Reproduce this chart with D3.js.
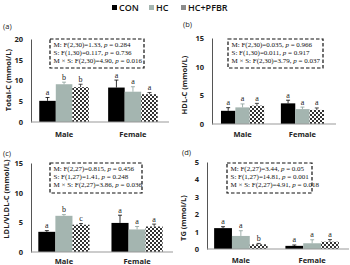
<!DOCTYPE html>
<html>
<head>
<meta charset="utf-8">
<script src="https://cdn.jsdelivr.net/npm/d3@7"></script>
<style>
  body { margin: 0; background: #fff; }
  svg { display: block; }
  .tick text { font-family: "Open Sans", sans-serif; font-weight: 700; font-size: 7.5px; fill: #222; }
  .stat { font-family: "Liberation Serif", "DejaVu Serif", serif; font-size: 7px; fill: #111; }
  .sig { font-family: "Liberation Serif", serif; font-size: 8px; fill: #222; }
  .ytitle, .cat { font-family: "Open Sans", sans-serif; font-weight: 700; font-size: 7.5px; fill: #222; }
  .plabel { font-family: "Open Sans", sans-serif; font-size: 7.5px; fill: #222; }
  .legend text { font-family: "Open Sans", sans-serif; font-weight: 600; font-size: 9px; fill: #111; }
</style>
</head>
<body>
<div id="chart"></div>
<script>
// groups and treatments
const groups = ["Male", "Female"];
const treatments = ["CON", "HC", "HC+PFBR"];

// means and error bars, order: Male CON, HC, HC+PFBR, Female CON, HC, HC+PFBR
const totalCMean = [5.1, 9.1, 8.4, 8.3, 7.3, 6.7];
const totalCErr = [0.8, 0.5, 0.7, 1.8, 1.2, 0.4];
const totalCSig = ["a", "b", "b", "a", "a", "a"];
const totalCStats = ["M: F(2,30)=1.33, |p| = 0.284", "S: F(1,30)=0.117, |p| = 0.736", "M × S: F(2,30)=4.90, |p| = 0.016"];

const hdlMean = [2.3, 2.9, 3.2, 3.6, 2.6, 2.45];
const hdlErr = [0.55, 0.6, 0.4, 0.55, 0.35, 0.35];
const hdlSig = ["a", "a", "a", "a", "a", "a"];
const hdlStats = ["M: F(2,30)=0.035, |p| = 0.966", "S: F(1,30)=0.011, |p| = 0.917", "M × S: F(2,30)=3.79, |p| = 0.037"];

const ldlMean = [3.4, 6.1, 4.6, 4.9, 3.8, 4.3];
const ldlErr = [0.2, 0.2, 0.2, 1.3, 0.5, 0.4];
const ldlSig = ["a", "b", "c", "a", "a", "a"];
const ldlStats = ["M: F(2,27)=0.815, |p| = 0.456", "S: F(1,27)=1.41, |p| = 0.248", "M × S: F(2,27)=3.86, |p| = 0.036"];

const tgMean = [1.2, 0.75, 0.27, 0.18, 0.33, 0.42];
const tgErr = [0.08, 0.3, 0.05, 0.05, 0.2, 0.12];
const tgSig = ["a", "a", "b", "a", "a", "a"];
const tgStats = ["M: F(2,27)=3.44, |p| = 0.05", "S: F(1,27)=14.81, |p| = 0.001", "M × S: F(2,27)=4.91, |p| = 0.018"];

const colors = {"CON": "#000000", "HC": "#a4b5b0", "HC+PFBR": "url(#checker)"};
const errColors = {"CON": "#000000", "HC": "#8a9e99", "HC+PFBR": "#222222"};
const legendColors = {"CON": "#000000", "HC": "#a4b5b0", "HC+PFBR": "#8c8c8c"};

const svg = d3.select("#chart").append("svg")
    .attr("width", 350)
    .attr("height", 265);

// checkerboard pattern for HC+PFBR
let pat = svg.append("defs").append("pattern")
    .attr("id", "checker")
    .attr("patternUnits", "userSpaceOnUse")
    .attr("width", 4)
    .attr("height", 4);
pat.append("rect").attr("width", 4).attr("height", 4).attr("fill", "#fff");
pat.append("rect").attr("width", 2).attr("height", 2).attr("fill", "#333");
pat.append("rect").attr("x", 2).attr("y", 2).attr("width", 2).attr("height", 2).attr("fill", "#333");

// legend
let legend = svg.append("g").attr("class", "legend");
let legX = [112, 149, 181];
treatments.forEach((t, i) => {
    legend.append("rect")
        .attr("x", legX[i]).attr("y", 5)
        .attr("width", 5).attr("height", 5)
        .attr("fill", legendColors[t]);
    legend.append("text")
        .attr("x", legX[i] + 7).attr("y", 11)
        .text(t);
});

function drawPanel(p) {
    let g = svg.append("g");

    let y = d3.scaleLinear().domain([0, p.ymax]).range([p.bottom, p.top]);
    let x0 = d3.scaleBand().domain(groups).range([p.left, p.right])
        .paddingInner(p.pi).paddingOuter(p.po);
    let x1 = d3.scaleBand().domain(treatments).range([0, x0.bandwidth()]);

    // y axis
    let yAxis = d3.axisLeft(y).tickValues(d3.range(0, p.ymax + 0.001, p.step))
        .tickFormat(d3.format("d"))
        .tickSize(0).tickPadding(8);
    let ya = g.append("g")
        .attr("transform", `translate(${p.left},0)`)
        .call(yAxis);
    ya.select(".domain").attr("stroke", "#555").attr("stroke-width", 1);

    // bars
    let rows = [];
    groups.forEach((gr, gi) => {
        treatments.forEach((t, ti) => {
            let k = gi * 3 + ti;
            rows.push({group: gr, t: t, v: p.mean[k], e: p.err[k], s: p.sig[k]});
        });
    });

    g.selectAll(".bar")
        .data(rows)
        .enter().append("rect")
        .attr("x", d => x0(d.group) + x1(d.t))
        .attr("y", d => y(d.v))
        .attr("width", x1.bandwidth())
        .attr("height", d => y(0) - y(d.v))
        .attr("fill", d => colors[d.t]);

    // error bars
    rows.forEach(d => {
        let cx = x0(d.group) + x1(d.t) + x1.bandwidth() / 2;
        g.append("line")
            .attr("x1", cx).attr("x2", cx)
            .attr("y1", y(d.v)).attr("y2", y(d.v + d.e))
            .attr("stroke", errColors[d.t]).attr("stroke-width", 0.8);
        g.append("line")
            .attr("x1", cx - 2).attr("x2", cx + 2)
            .attr("y1", y(d.v + d.e)).attr("y2", y(d.v + d.e))
            .attr("stroke", errColors[d.t]).attr("stroke-width", 0.8);
        g.append("text")
            .attr("class", "sig")
            .attr("x", cx).attr("y", y(d.v + d.e) - 2.5)
            .attr("text-anchor", "middle")
            .text(d.s);
    });

    // x axis line
    g.append("line")
        .attr("x1", p.left).attr("x2", p.right + 3)
        .attr("y1", y(0)).attr("y2", y(0))
        .attr("stroke", "#999").attr("stroke-width", 1);

    groups.forEach(gr => {
        g.append("text")
            .attr("class", "cat")
            .attr("x", x0(gr) + x0.bandwidth() / 2)
            .attr("y", y(0) + p.catDy)
            .attr("text-anchor", "middle")
            .text(gr);
    });

    // axis title
    g.append("text")
        .attr("class", "ytitle")
        .attr("transform", `translate(${p.titleX},${p.titleY}) rotate(-90)`)
        .attr("text-anchor", "middle")
        .text(p.title);

    g.append("text")
        .attr("class", "plabel")
        .attr("x", p.lab[0]).attr("y", p.lab[1])
        .text(p.name);

    // stats box
    g.append("rect")
        .attr("x", p.box[0]).attr("y", p.box[1])
        .attr("width", p.box[2] - p.box[0]).attr("height", p.box[3] - p.box[1])
        .attr("fill", "#fff")
        .attr("stroke", "#111").attr("stroke-width", 1.2)
        .attr("stroke-dasharray", "3.5,2");
    p.stats.forEach((s, i) => {
        let parts = s.split("|");
        let t = g.append("text")
            .attr("class", "stat")
            .attr("x", p.box[0] + 3.5)
            .attr("y", p.box[1] + 8 + i * 7.8);
        t.append("tspan").text(parts[0]);
        t.append("tspan").attr("font-style", "italic").text(parts[1]);
        t.append("tspan").text(parts[2]);
    });
}

drawPanel({name: "(a)", lab: [3, 29], title: "Total-C (mmol/L)", titleX: 11, titleY: 80,
    mean: totalCMean, err: totalCErr, sig: totalCSig, stats: totalCStats,
    ymax: 20, step: 5, left: 31, right: 166, top: 39, bottom: 122, pi: 0.28, po: 0.12,
    box: [50, 39, 144, 68], catDy: 15});

drawPanel({name: "(b)", lab: [183, 27], title: "HDL-C (mmol/L)", titleX: 187, titleY: 85,
    mean: hdlMean, err: hdlErr, sig: hdlSig, stats: hdlStats,
    ymax: 15, step: 5, left: 212, right: 333, top: 38, bottom: 124, pi: 0.28, po: 0.15,
    box: [228, 39, 323, 68], catDy: 13});

drawPanel({name: "(c)", lab: [3, 156], title: "LDL/VLDL-C (mmol/L)", titleX: 9, titleY: 199,
    mean: ldlMean, err: ldlErr, sig: ldlSig, stats: ldlStats,
    ymax: 15, step: 5, left: 31, right: 170, top: 163, bottom: 252, pi: 0.3, po: 0.1,
    box: [50, 163, 142, 193], catDy: 12});

drawPanel({name: "(d)", lab: [182, 155], title: "TG (mmol/L)", titleX: 186, titleY: 218,
    mean: tgMean, err: tgErr, sig: tgSig, stats: tgStats,
    ymax: 5, step: 1, left: 207, right: 346, top: 162, bottom: 249, pi: 0.25, po: 0.1,
    box: [227, 163, 312, 193], catDy: 14});
</script>
</body>
</html>
